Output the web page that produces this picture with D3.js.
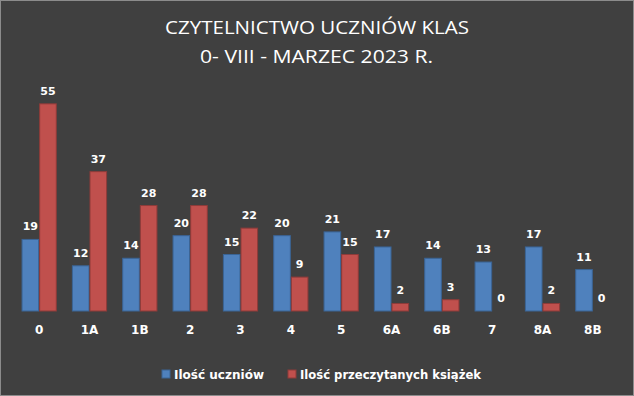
<!DOCTYPE html>
<html>
<head>
<meta charset="utf-8">
<script src="https://cdn.jsdelivr.net/npm/d3@7"></script>
<style>
  html, body { margin: 0; padding: 0; background: #404040; }
  svg { display: block; }
</style>
</head>
<body>
<svg id="chart"></svg>
<script>
// chart data
const categories = ['0', '1A', '1B', '2', '3', '4', '5', '6A', '6B', '7', '8A', '8B'];
const students = [19, 12, 14, 20, 15, 20, 21, 17, 14, 13, 17, 11];
const booksRead = [55, 37, 28, 28, 22, 9, 15, 2, 3, 0, 2, 0];
const seriesNames = ['Ilość uczniów', 'Ilość przeczytanych książek'];
const titleLines = ['CZYTELNICTWO UCZNIÓW KLAS', '0- VIII - MARZEC 2023 R.'];

const width = 634;
const height = 396;
const marginTop = 85;
const marginBottom = 85; // baseline at 311
const plotLeft = 14;
const plotRight = 618;

const colors = ['#4f81bd', '#c0504d'];
const strokes = ['#3a6495', '#8e3b39'];

const svg = d3.select('#chart').attr('width', width).attr('height', height);

// background + border
svg.append('rect')
    .attr('x', 0.5).attr('y', 0.5)
    .attr('width', width - 1).attr('height', height - 1)
    .attr('fill', '#404040')
    .attr('stroke', '#8c8c8c');

// title
svg.append('g')
    .selectAll('text')
    .data(titleLines)
    .join('text')
    .attr('x', (d, i) => (i === 0 ? 165 : 200))
    .attr('y', (d, i) => (i === 0 ? 33.5 : 62.5))
    .attr('fill', '#ffffff')
    .style('font-family', '"Open Sans", sans-serif')
    .style('font-size', '18px')
    .attr('textLength', (d, i) => (i === 0 ? 304 : 233))
    .attr('lengthAdjust', 'spacingAndGlyphs')
    .text((d) => d);

const x = d3.scaleBand()
    .domain(categories)
    .range([plotLeft, plotRight])
    .paddingInner(0.3)
    .paddingOuter(0.15);

const xs = d3.scaleBand()
    .domain([0, 1])
    .range([0, x.bandwidth()]);

const y = d3.scaleLinear()
    .domain([0, 60])
    .range([height - marginBottom, marginTop]);

const rows = categories.map((c, i) => ({ cat: c, vals: [students[i], booksRead[i]] }));

const groups = svg.append('g')
    .selectAll('g')
    .data(rows)
    .join('g')
    .attr('transform', (d) => `translate(${x(d.cat)},0)`);

groups.selectAll('rect')
    .data((d) => d.vals.map((v, s) => ({ v, s })))
    .join('rect')
    .attr('x', (d) => xs(d.s) + 0.5)
    .attr('y', (d) => y(d.v))
    .attr('width', xs.bandwidth() - 1)
    .attr('height', (d) => y(0) - y(d.v))
    .attr('fill', (d) => colors[d.s])
    .attr('stroke', (d) => (d.v > 0 ? strokes[d.s] : 'none'))
    .attr('stroke-width', 1);

// data labels
groups.selectAll('text')
    .data((d) => d.vals.map((v, s) => ({ v, s })))
    .join('text')
    .attr('x', (d) => xs(d.s) + xs.bandwidth() / 2)
    .attr('y', (d) => y(d.v) - 9)
    .attr('text-anchor', 'middle')
    .attr('fill', '#ffffff')
    .style('font-family', '"DejaVu Sans", sans-serif')
    .style('font-size', '11px')
    .style('font-weight', 'bold')
    .text((d) => d.v);

// category axis
const xAxis = svg.append('g')
    .attr('transform', `translate(0,${y(0)})`)
    .call(d3.axisBottom(x).tickSize(0).tickPadding(14));
xAxis.select('.domain').remove();
xAxis.selectAll('text')
    .attr('fill', '#ffffff')
    .style('font-family', '"DejaVu Sans", sans-serif')
    .style('font-size', '12px')
    .style('font-weight', 'bold');

// legend
const legendItems = [
    { name: seriesNames[0], x: 162 },
    { name: seriesNames[1], x: 288 },
];
const legend = svg.append('g')
    .selectAll('g')
    .data(legendItems)
    .join('g')
    .attr('transform', (d) => `translate(${d.x},370)`);
legend.append('rect')
    .attr('width', 8).attr('height', 8)
    .attr('fill', (d, i) => colors[i])
    .attr('stroke', (d, i) => strokes[i]);
legend.append('text')
    .attr('x', 12)
    .attr('y', 8.5)
    .attr('fill', '#ffffff')
    .style('font-family', '"DejaVu Sans", sans-serif')
    .style('font-size', '12px')
    .style('font-weight', 'bold')
    .attr('textLength', (d, i) => (i === 0 ? 90 : 181))
    .attr('lengthAdjust', 'spacingAndGlyphs')
    .text((d) => d.name);
</script>
</body>
</html>
